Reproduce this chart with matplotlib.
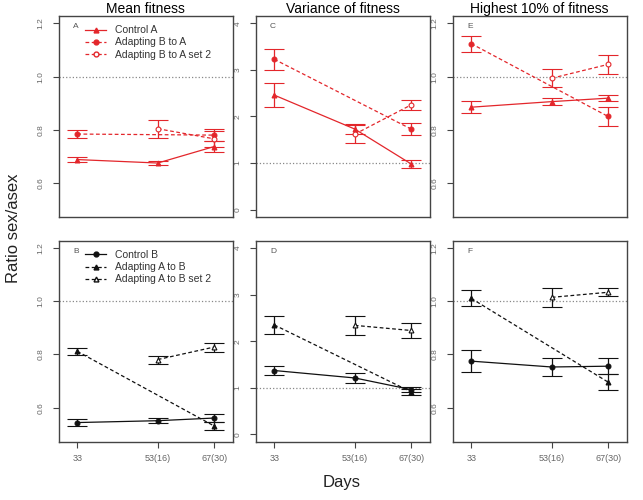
import numpy as np
import matplotlib.pyplot as plt

plt.rcParams['font.family'] = ['Liberation Sans', 'DejaVu Sans']

days = [33, 53, 67]
day_labels = ['33', '53(16)', '67(30)']
titles = ['Mean fitness', 'Variance of fitness', 'Highest 10% of fitness']
letters_top = ['A', 'C', 'E']
letters_bot = ['B', 'D', 'F']
names_top = ['Control A', 'Adapting B to A', 'Adapting B to A set 2']
names_bot = ['Control B', 'Adapting A to B', 'Adapting A to B set 2']

nan = np.nan

# top row (red): mean fitness
mean_ctrl_a = [0.688, 0.675, 0.737]
mean_ctrl_a_err = [0.010, 0.009, 0.022]
mean_adapt_a = [0.784, nan, 0.780]
mean_adapt_a_err = [0.014, nan, 0.022]
mean_set2_a = [nan, 0.804, 0.766]
mean_set2_a_err = [nan, 0.034, 0.030]

# top row: variance of fitness
var_ctrl_a = [2.46, 1.73, 0.98]
var_ctrl_a_err = [0.26, 0.10, 0.08]
var_adapt_a = [3.23, nan, 1.73]
var_adapt_a_err = [0.22, nan, 0.12]
var_set2_a = [nan, 1.62, 2.25]
var_set2_a_err = [nan, 0.20, 0.11]

# top row: highest 10%
top_ctrl_a = [0.885, 0.906, 0.919]
top_ctrl_a_err = [0.022, 0.014, 0.010]
top_adapt_a = [1.124, nan, 0.850]
top_adapt_a_err = [0.030, nan, 0.035]
top_set2_a = [nan, 0.994, 1.046]
top_set2_a_err = [nan, 0.034, 0.037]

# bottom row (black): mean fitness
mean_ctrl_b = [0.544, 0.551, 0.561]
mean_ctrl_b_err = [0.012, 0.010, 0.014]
mean_adapt_b = [0.812, nan, 0.531]
mean_adapt_b_err = [0.013, nan, 0.015]
mean_set2_b = [nan, 0.781, 0.828]
mean_set2_b_err = [nan, 0.015, 0.017]

# bottom row: variance of fitness
var_ctrl_b = [1.37, 1.21, 0.96]
var_ctrl_b_err = [0.10, 0.10, 0.05]
var_adapt_b = [2.35, nan, 0.91]
var_adapt_b_err = [0.20, nan, 0.07]
var_set2_b = [nan, 2.34, 2.23]
var_set2_b_err = [nan, 0.20, 0.17]

# bottom row: highest 10%
top_ctrl_b = [0.775, 0.753, 0.756]
top_ctrl_b_err = [0.042, 0.033, 0.030]
top_adapt_b = [1.011, nan, 0.696]
top_adapt_b_err = [0.030, nan, 0.030]
top_set2_b = [nan, 1.015, 1.034]
top_set2_b_err = [nan, 0.035, 0.015]

red = '#e3262b'
black = '#111111'
spine = '#444444'
tickc = '#666666'

fig = plt.figure(figsize=(6.43, 5.0), dpi=100)

lefts = [58.7, 255.7, 452.7]
width = 174.0
tops = [16.0, 240.7]
height = 201.0


def make_ax(col, row):
    x0 = lefts[col] / 643
    y0 = 1 - (tops[row] + height) / 500
    return fig.add_axes([x0, y0, width / 643, height / 500])


def plot_series(ax, vals, errs, color, ls, marker, mfc):
    # skip missing days so the line joins the remaining points
    v = np.array(vals, dtype=float)
    e = np.array(errs, dtype=float)
    d = np.array(days, dtype=float)
    ok = ~np.isnan(v)
    ax.errorbar(d[ok], v[ok], yerr=e[ok], color=color, ls=ls, lw=0.9,
                marker=marker, ms=3.5, mfc=mfc, mec=color, mew=0.8,
                ecolor=color, elinewidth=0.9, capsize=7, capthick=0.9,
                dashes=(3, 2) if ls == '--' else (None, None))


def style_ax(ax, ratio, bottom, letter):
    ax.set_xlim(28.4, 71.6)
    if ratio:
        ax.set_ylim(0.472, 1.228)
        ax.set_yticks([0.6, 0.8, 1.0, 1.2])
        ax.set_yticklabels(['0.6', '0.8', '1.0', '1.2'])
    else:
        ax.set_ylim(-0.16, 4.16)
        ax.set_yticks([0, 1, 2, 3, 4])
        ax.set_yticklabels(['0', '1', '2', '3', '4'])
    ax.axhline(1.0, color='#888888', ls=':', lw=0.9, zorder=0)
    for s in ax.spines.values():
        s.set_color(spine)
        s.set_linewidth(1.0)
    ax.tick_params(axis='y', colors=spine, labelcolor=tickc, labelsize=6,
                   length=4, width=0.8, pad=6)
    for lab in ax.get_yticklabels():
        lab.set_rotation(90)
        lab.set_va('center')
    if bottom:
        ax.set_xticks(days)
        ax.set_xticklabels(day_labels)
        ax.tick_params(axis='x', colors=spine, labelcolor=tickc, labelsize=6.5,
                       length=4, width=0.8, pad=5)
    else:
        ax.set_xticks([])
    ax.text(0.1, 0.965, letter, transform=ax.transAxes, fontsize=6,
            color='#555555', ha='center', va='top')


top_data = [
    (mean_ctrl_a, mean_ctrl_a_err, mean_adapt_a, mean_adapt_a_err, mean_set2_a, mean_set2_a_err),
    (var_ctrl_a, var_ctrl_a_err, var_adapt_a, var_adapt_a_err, var_set2_a, var_set2_a_err),
    (top_ctrl_a, top_ctrl_a_err, top_adapt_a, top_adapt_a_err, top_set2_a, top_set2_a_err),
]
bot_data = [
    (mean_ctrl_b, mean_ctrl_b_err, mean_adapt_b, mean_adapt_b_err, mean_set2_b, mean_set2_b_err),
    (var_ctrl_b, var_ctrl_b_err, var_adapt_b, var_adapt_b_err, var_set2_b, var_set2_b_err),
    (top_ctrl_b, top_ctrl_b_err, top_adapt_b, top_adapt_b_err, top_set2_b, top_set2_b_err),
]

for i in range(3):
    ratio = i != 1
    # top row, red
    ax = make_ax(i, 0)
    c, ce, a, ae, s2, s2e = top_data[i]
    plot_series(ax, c, ce, red, '-', '^', red)
    plot_series(ax, a, ae, red, '--', 'o', red)
    plot_series(ax, s2, s2e, red, '--', 'o', 'white')
    style_ax(ax, ratio, False, letters_top[i])
    ax.set_title(titles[i], fontsize=10, pad=2)
    if i == 0:
        h = [plt.Line2D([], [], color=red, ls='-', lw=0.9, marker='^', ms=3.5),
             plt.Line2D([], [], color=red, ls='--', dashes=(3, 2), lw=0.9, marker='o', ms=3.5),
             plt.Line2D([], [], color=red, ls='--', dashes=(3, 2), lw=0.9, marker='o', ms=3.5,
                        mfc='white')]
        ax.legend(h, names_top, loc='upper left', bbox_to_anchor=(0.1, 1.0),
                  frameon=False, fontsize=7.5, handlelength=2.0,
                  labelspacing=0.2, handletextpad=0.8, labelcolor='#333333')

    # bottom row, black
    ax = make_ax(i, 1)
    c, ce, a, ae, s2, s2e = bot_data[i]
    plot_series(ax, c, ce, black, '-', 'o', black)
    plot_series(ax, a, ae, black, '--', '^', black)
    plot_series(ax, s2, s2e, black, '--', '^', 'white')
    style_ax(ax, ratio, True, letters_bot[i])
    if i == 0:
        h = [plt.Line2D([], [], color=black, ls='-', lw=0.9, marker='o', ms=3.5),
             plt.Line2D([], [], color=black, ls='--', dashes=(3, 2), lw=0.9, marker='^', ms=3.5),
             plt.Line2D([], [], color=black, ls='--', dashes=(3, 2), lw=0.9, marker='^', ms=3.5,
                        mfc='white')]
        ax.legend(h, names_bot, loc='upper left', bbox_to_anchor=(0.1, 1.0),
                  frameon=False, fontsize=7.5, handlelength=2.0,
                  labelspacing=0.2, handletextpad=0.8, labelcolor='#333333')

fig.text(14 / 643, 1 - 228 / 500, 'Ratio sex/asex', rotation=90, fontsize=12,
         ha='center', va='center', color='#222222')
fig.text(342 / 643, 1 - 483 / 500, 'Days', fontsize=12, ha='center',
         va='center', color='#222222')

fig.savefig('out.png', dpi=100)
